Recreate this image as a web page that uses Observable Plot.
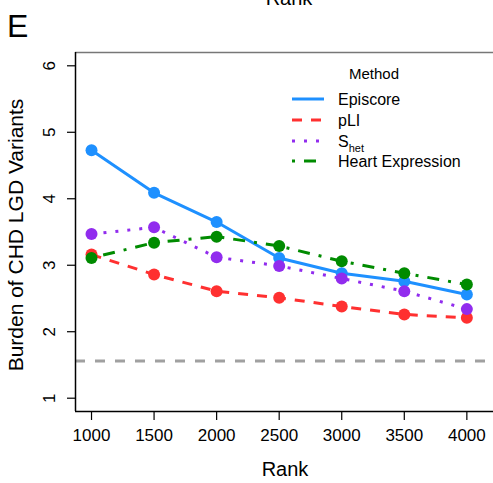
<!DOCTYPE html>
<html>
<head>
<meta charset="utf-8">
<script src="https://cdn.jsdelivr.net/npm/d3@7"></script>
<script src="https://cdn.jsdelivr.net/npm/@observablehq/plot@0.6"></script>
<style>
  html, body { margin: 0; padding: 0; background: white; }
  #chart svg { display: block; }
</style>
</head>
<body>
<div id="chart"></div>
<script>
// Burden of CHD LGD variants among top-ranked genes, by ranking method
const ranks = [1000, 1500, 2000, 2500, 3000, 3500, 4000];
const methods = ["Episcore", "pLI", "Shet", "Heart Expression"];
const episcore = [4.73, 4.09, 3.65, 3.11, 2.88, 2.76, 2.56];
const pli = [3.16, 2.86, 2.61, 2.51, 2.38, 2.26, 2.21];
const shet = [3.47, 3.57, 3.12, 2.99, 2.80, 2.61, 2.34];
const heart = [3.11, 3.34, 3.43, 3.29, 3.06, 2.88, 2.71];
const background = 1.56;
const yTicks = [1, 2, 3, 4, 5, 6];

const seriesValues = [episcore, pli, shet, heart];
const colors = ["#1E90FF", "#FF3030", "#912CEE", "#008B00"];
const dashes = [null, "10,9", "3,9", "3,9,12,9"];

const font = "'Liberation Sans', Arial, Helvetica, sans-serif";

const lineMarks = [];
methods.forEach((m, i) => {
  const rows = ranks.map((r, j) => ({method: m, rank: r, burden: seriesValues[i][j]}));
  lineMarks.push(Plot.line(rows, {
    x: "rank", y: "burden", stroke: colors[i], strokeWidth: 3,
    strokeDasharray: dashes[i] ?? undefined, strokeLinecap: "butt"
  }));
  lineMarks.push(Plot.dot(rows, {x: "rank", y: "burden", r: 6, fill: colors[i], stroke: "none"}));
});

const xMin = 872, xMax = 4213, yMin = 0.8, yMax = 6.2;

const chart = Plot.plot({
  width: 493,
  height: 483,
  marginLeft: 75,
  marginRight: 0,
  marginTop: 52,
  marginBottom: 72,
  style: {fontFamily: font, fontSize: "16px", background: "white", color: "black", overflow: "visible"},
  x: {domain: [xMin, xMax]},
  y: {domain: [yMin, yMax]},
  marks: [
    Plot.ruleY([background], {stroke: "#a0a0a0", strokeWidth: 3, strokeDasharray: "10,10"}),
    ...lineMarks,
    Plot.ruleY([yMax], {stroke: "#777", strokeWidth: 1.5}),
    Plot.ruleY([yMin], {stroke: "black", strokeWidth: 1.5}),
    Plot.ruleX([xMin], {stroke: "black", strokeWidth: 1.5}),
    Plot.axisX({ticks: ranks, tickFormat: d3.format("d"), tickSize: 9, tickPadding: 8, label: null, fontSize: 17, strokeWidth: 1.2}),
    Plot.axisY({ticks: yTicks, tickFormat: d3.format("d"), tickSize: 8, tickPadding: 13, tickRotate: -90, label: null, fontSize: 17, strokeWidth: 1.2})
  ]
});

document.getElementById("chart").appendChild(chart);

const svg = d3.select(chart);

// Axis titles, panel letter, and the clipped axis title of the panel above
svg.append("text").attr("x", 285).attr("y", 476).attr("text-anchor", "middle")
  .style("font-family", font).style("font-size", "20px").text("Rank");
svg.append("text").attr("transform", "translate(22.5,235) rotate(-90)").attr("text-anchor", "middle")
  .style("font-family", font).style("font-size", "21px").text("Burden of CHD LGD Variants");
svg.append("text").attr("x", 7).attr("y", 37).attr("text-anchor", "start")
  .style("font-family", font).style("font-size", "32px").text("E");
svg.append("text").attr("x", 289).attr("y", 5).attr("text-anchor", "middle")
  .style("font-family", font).style("font-size", "20px").text("Rank");

// Legend
const legend = svg.append("g").attr("text-anchor", "start")
  .style("font-family", font).style("font-size", "16px");
legend.append("text").attr("x", 374).attr("y", 79).attr("text-anchor", "middle")
  .style("font-size", "15px").text("Method");
const rowY = [99, 120, 141, 161];
methods.forEach((m, i) => {
  legend.append("line").attr("x1", 292).attr("x2", 324).attr("y1", rowY[i]).attr("y2", rowY[i])
    .attr("stroke", colors[i]).attr("stroke-width", 3)
    .attr("stroke-dasharray", dashes[i] ?? null);
  const t = legend.append("text").attr("x", 338).attr("y", rowY[i] + 6);
  if (m === "Shet") {
    t.append("tspan").text("S");
    t.append("tspan").attr("dy", 5).style("font-size", "11px").text("het");
  } else {
    t.text(m);
  }
});
</script>
</body>
</html>
